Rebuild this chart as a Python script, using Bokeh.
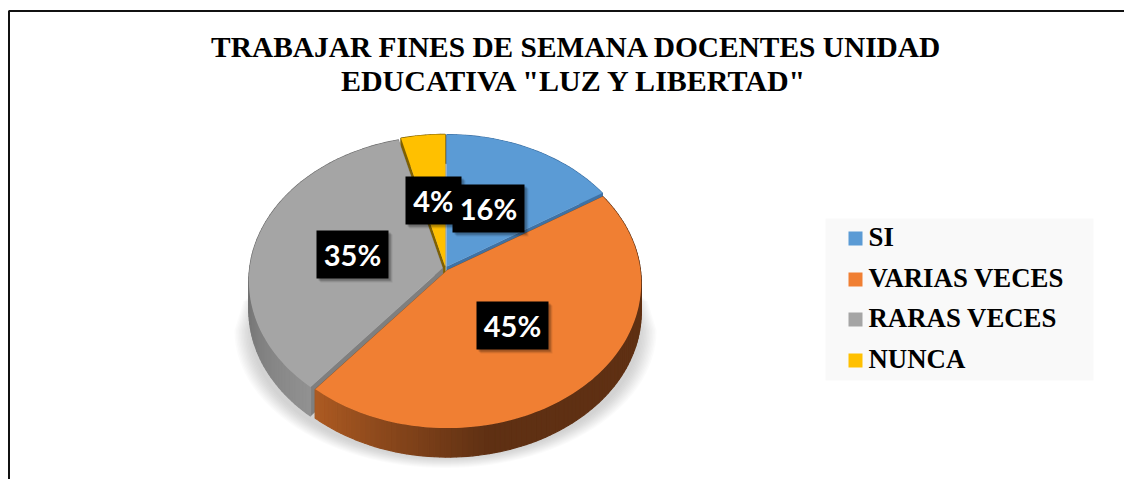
import math
from bokeh.plotting import figure
from bokeh.models import Range1d
from bokeh.core.properties import value
from bokeh.embed import file_html
from bokeh.resources import INLINE

title_lines = ["TRABAJAR FINES DE SEMANA DOCENTES UNIDAD", 'EDUCATIVA "LUZ Y LIBERTAD"']
categories = ["SI", "VARIAS VECES", "RARAS VECES", "NUNCA"]
percents = [16, 45, 35, 4]
labels = ["16%", "45%", "35%", "4%"]
colors = ["#5B9BD5", "#F07F33", "#A5A5A5", "#FFC000"]
cut_colors = ["#3F72A5", "#7A4A20", "#7F7F7F", "#7F6000"]

p = figure(width=1124, height=479, output_backend="svg", toolbar_location=None,
           x_range=Range1d(0, 1124), y_range=Range1d(479, 0), min_border=0,
           outline_line_color=None, background_fill_color="white", border_fill_color="white")
p.xaxis.visible = False
p.yaxis.visible = False
p.grid.visible = False

# frame
p.line([8.5, 8.5, 1124], [479, 10.5, 10.5], line_color="#111111", line_width=2)

# title
for txt, x, y, fs in zip(title_lines, [576, 574.5], [46.5, 79.5], ["29.4px", "30px"]):
    p.text([x], [y], text=[txt], text_font=value("Liberation Serif"), text_font_style="bold",
           text_font_size=fs, text_align="center", text_baseline="middle", text_color="#000000")

CX, CY, A, B, K, DEPTH, EXPL = 445.0, 268.0, 193.0, 143.8, 0.0897, 29.0, 0.015


def project(deg, ox=0.0, oy=0.0):
    t = math.radians(deg)
    x, y = math.sin(t), math.cos(t)
    w = 1 + K * y
    return CX + ox + A * x / w, CY + oy - B * y / w


def mix(c1, c2, f):
    f = max(0.0, min(1.0, f))
    a = [int(c1[i:i + 2], 16) for i in (1, 3, 5)]
    b = [int(c2[i:i + 2], 16) for i in (1, 3, 5)]
    return "#%02x%02x%02x" % tuple(round(u + (v - u) * f) for u, v in zip(a, b))


# soft base shadow
for k in range(12, 0, -1):
    rx = 193 + k * 1.5
    ry_bottom = 456 + k * 0.95
    cy = 330.0
    top = 286.0 + k * 1.2
    xs, ys = [445 - rx + 9], [top]
    for i in range(0, 61):
        a = math.pi - math.pi * i / 60
        xs.append(445 + rx * math.cos(a))
        ys.append(cy + (ry_bottom - cy) * math.sin(a))
    xs.append(445 + rx - 9)
    ys.append(top)
    p.patch(xs, ys, fill_color="#8c8c8c", fill_alpha=0.032, line_color=None)

# slices: painter's order, back to front
total = sum(percents)
starts, acc = [], 0.0
for v in percents:
    starts.append(acc / total * 360.0)
    acc += v

for idx in [3, 0, 2, 1]:
    a0 = starts[idx]
    a1 = a0 + percents[idx] / total * 360.0
    mid = math.radians((a0 + a1) / 2)
    ox = EXPL * A * math.sin(mid)
    oy = -EXPL * B * math.cos(mid)
    ax, ay = CX + ox, CY + oy
    n = max(4, int((a1 - a0) / 1.5))
    angs = [a0 + (a1 - a0) * i / n for i in range(n + 1)]
    pts = [project(a, ox, oy) for a in angs]
    # cut walls
    for (qx, qy) in (pts[0], pts[-1]):
        p.patch([ax, qx, qx, ax], [ay, qy, qy + DEPTH, ay + DEPTH],
                fill_color=cut_colors[idx], line_color=cut_colors[idx], line_width=0.5)
    # rim wall, shaded by angle
    for i in range(n):
        am = (angs[i] + angs[i + 1]) / 2
        if idx == 1:
            col = mix("#AC5A22", "#5F3013", (219 - am) / 50)
        elif idx == 2:
            col = mix("#929292", "#6E6E6E", (am - 219) / 55)
        else:
            col = cut_colors[idx]
        (x0, y0), (x1, y1) = pts[i], pts[i + 1]
        p.patch([x0, x1, x1, x0], [y0, y1, y1 + DEPTH, y0 + DEPTH],
                fill_color=col, line_color=col, line_width=1.2)
    # top face
    p.patch([ax] + [q[0] for q in pts], [ay] + [q[1] for q in pts],
            fill_color=colors[idx], line_color=None)

# data labels
label_boxes = {"35%": (352, 254, 72), "45%": (512, 325, 72), "4%": (433, 200, 56), "16%": (488, 208, 72)}
for lab in ["35%", "45%", "4%", "16%"]:
    bx, by, bw = label_boxes[lab]
    for off, al in ((4, 0.08), (3, 0.12), (2, 0.16)):
        p.rect([bx + off], [by + off], width=bw, height=48, fill_color="#000000", fill_alpha=al, line_color=None)
for lab in ["35%", "45%", "4%", "16%"]:
    bx, by, bw = label_boxes[lab]
    p.rect([bx], [by], width=bw, height=48, fill_color="#000000", line_color=None)
    p.text([bx], [by], text=[lab], text_font=value("Lato"), text_font_style="bold",
           text_font_size="29px", text_align="center", text_baseline="middle", text_color="#ffffff")

# legend
p.quad(left=[825], right=[1093], top=[218], bottom=[380], fill_color="#F9F9F9", line_color=None)
for name, col, y in zip(categories, colors, [238, 279, 319, 360]):
    p.quad(left=[848], right=[862], top=[y - 7], bottom=[y + 7], fill_color=col, line_color=None)
    p.text([868], [y - 2], text=[name], text_font=value("Liberation Serif"), text_font_style="bold",
           text_font_size="26.8px", text_align="left", text_baseline="middle", text_color="#000000")

open("out.html", "w").write(file_html(p, INLINE))
